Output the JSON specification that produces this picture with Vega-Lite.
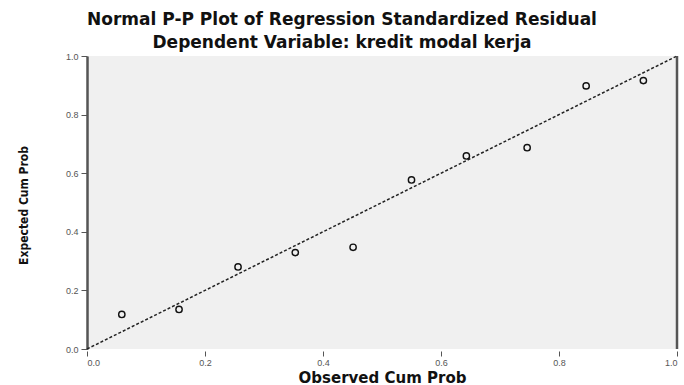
{
  "$schema": "https://vega.github.io/schema/vega-lite/v6.json",
  "width": 590,
  "height": 293,
  "autosize": {"type": "none"},
  "padding": {"left": 87, "top": 56, "right": 7, "bottom": 36},
  "background": "white",
  "view": {"fill": "#f0f0f0", "stroke": null},
  "title": {
    "text": ["Normal P-P Plot of Regression Standardized Residual", "Dependent Variable: kredit modal kerja"],
    "font": "DejaVu Sans",
    "fontWeight": "bold",
    "fontSize": 17,
    "lineHeight": 23,
    "color": "#111",
    "anchor": "middle",
    "frame": "group",
    "dx": -40,
    "offset": 0
  },
  "datasets": {
    "points": [
      {"observed": 0.059, "expected": 0.118},
      {"observed": 0.156, "expected": 0.135},
      {"observed": 0.256, "expected": 0.280},
      {"observed": 0.353, "expected": 0.329},
      {"observed": 0.451, "expected": 0.347},
      {"observed": 0.550, "expected": 0.577},
      {"observed": 0.643, "expected": 0.659},
      {"observed": 0.746, "expected": 0.687},
      {"observed": 0.846, "expected": 0.898},
      {"observed": 0.943, "expected": 0.916}
    ],
    "diag": [
      {"observed": 0, "expected": 0},
      {"observed": 1, "expected": 1}
    ],
    "edge": [
      {"observed": 1, "lo": 0, "hi": 1}
    ]
  },
  "layer": [
    {
      "data": {"name": "diag"},
      "mark": {"type": "line", "color": "#222", "strokeWidth": 1.5, "strokeDash": [3, 2]},
      "encoding": {
        "x": {
          "field": "observed", "type": "quantitative",
          "scale": {"domain": [0, 1], "nice": false, "zero": false},
          "axis": {
            "title": "Observed Cum Prob",
            "titleFont": "DejaVu Sans", "titleFontWeight": "bold", "titleFontSize": 15,
            "titleColor": "#111",
            "titleX": 295, "titleY": 31, "titleAlign": "center", "titleBaseline": "alphabetic",
            "values": [0, 0.2, 0.4, 0.6, 0.8, 1],
            "format": ".1f",
            "labelFont": "Liberation Sans", "labelFontSize": 9, "labelColor": "#555",
            "labelPadding": 2,
            "domain": false,
            "grid": false,
            "tickColor": "#555", "tickSize": 5, "tickWidth": 1, "offset": 2
          }
        },
        "y": {
          "field": "expected", "type": "quantitative",
          "scale": {"domain": [0, 1], "nice": false, "zero": false},
          "axis": {
            "title": "Expected Cum Prob",
            "titleFont": "'DejaVu Sans Condensed', 'Liberation Sans Narrow', 'DejaVu Sans', sans-serif",
            "titleFontWeight": "bold", "titleFontSize": 12,
            "titleColor": "#111",
            "titleAngle": -90, "titleX": -64, "titleY": 149, "titleAlign": "center", "titleBaseline": "middle",
            "values": [0, 0.2, 0.4, 0.6, 0.8, 1],
            "format": ".1f",
            "labelFont": "Liberation Sans", "labelFontSize": 9, "labelColor": "#555",
            "labelPadding": 3,
            "domainColor": "#555", "domainWidth": 2.5,
            "grid": false,
            "tickColor": "#555", "tickSize": 6, "tickWidth": 1
          }
        }
      }
    },
    {
      "data": {"name": "edge"},
      "mark": {"type": "rule", "color": "#555", "strokeWidth": 2.5},
      "encoding": {
        "x": {"field": "observed", "type": "quantitative"},
        "y": {"field": "lo", "type": "quantitative"},
        "y2": {"field": "hi"}
      }
    },
    {
      "data": {"name": "points"},
      "mark": {"type": "point", "shape": "circle", "filled": false, "color": "#111", "opacity": 1, "size": 40, "strokeWidth": 1.4},
      "encoding": {
        "x": {"field": "observed", "type": "quantitative"},
        "y": {"field": "expected", "type": "quantitative"}
      }
    }
  ]
}
